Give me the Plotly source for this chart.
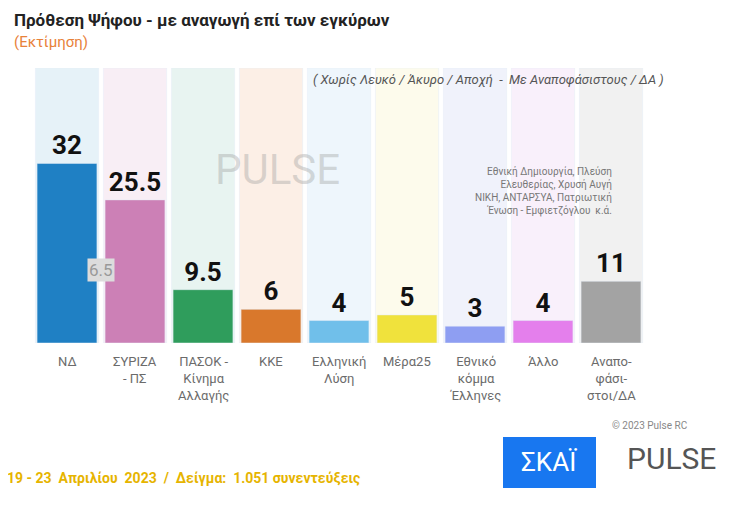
import plotly.graph_objects as go

parties = ["ΝΔ", "ΣΥΡΙΖΑ<br>- ΠΣ", "ΠΑΣΟΚ -<br>Κίνημα<br>Αλλαγής", "ΚΚΕ", "Ελληνική<br>Λύση",
           "Μέρα25", "Εθνικό<br>κόμμα<br>Έλληνες", "Άλλο", "Αναπο-<br>φάσι-<br>στοι/ΔΑ"]
values = [32, 25.5, 9.5, 6, 4, 5, 3, 4, 11]
value_labels = ["<b>32</b>", "<b>25.5</b>", "<b>9.5</b>", "<b>6</b>", "<b>4</b>", "<b>5</b>",
                "<b>3</b>", "<b>4</b>", "<b>11</b>"]
bar_colors = ["#1f80c4", "#cc80b6", "#2f9d5c", "#d9782c", "#70bfea", "#f0e23c", "#8e9ef2", "#e47fec", "#a3a3a3"]
bg_colors = ["#e6f2f8", "#f8eef5", "#e8f4f1", "#fcefe6", "#eef6fc", "#fdfbec", "#f0f2fb", "#f9f0fb", "#f1f1f1"]
diff_label = "6.5"
others_note = "Εθνική Δημιουργία, Πλεύση<br>Ελευθερίας, Χρυσή Αυγή<br>ΝΙΚΗ, ΑΝΤΑΡΣΥΑ, Πατριωτική<br>Ένωση - Εμφιετζόγλου  κ.ά."

# page offset of the figure (body margin) and plot area in screenshot pixels
OFF = 8
L, R, T, B = 33, 645, 68, 343
YMAX = 49

x = list(range(len(parties)))
fig = go.Figure()
fig.add_trace(go.Bar(x=x, y=[YMAX] * len(x), marker_color=bg_colors, width=0.93,
                     hoverinfo="skip", showlegend=False))
fig.add_trace(go.Bar(x=x, y=values, marker_color=bar_colors, width=0.88, showlegend=False,
                     text=value_labels, textposition="outside",
                     textfont=dict(size=26, color="#111", family="Liberation Sans Narrow, Roboto"),
                     cliponaxis=False))
fig.update_layout(barmode="overlay", width=734, height=507, plot_bgcolor="white", paper_bgcolor="white",
                  margin=dict(l=L - OFF, r=734 - R + OFF, t=T - OFF, b=507 - B + OFF),
                  xaxis=dict(visible=False, range=[-0.5, 8.5]),
                  yaxis=dict(visible=False, range=[0, YMAX]),
                  font=dict(family="Liberation Sans Narrow, Roboto, sans-serif"))


def pix(px, py):
    return (px - L) / (R - L), (B - py) / (B - T)


for i, p in enumerate(parties):
    fig.add_annotation(x=i, y=pix(0, 352)[1], yref="paper", text=p, showarrow=False, yanchor="top",
                       font=dict(size=13, color="#6b6b6b"))

fig.add_annotation(x=0.5, y=13, text=diff_label, showarrow=False, bgcolor="#dcdcdc",
                   font=dict(size=17, color="#999"))
fig.add_annotation(x=7, y=27, text=others_note, showarrow=False, align="right",
                   font=dict(size=10, color="#777"))
fig.add_annotation(x=3.1, y=31, text="PULSE", showarrow=False,
                   font=dict(size=42, color="rgba(150,150,150,0.35)"))

for txt, px, py, size, color, anchor in [
    ("<b>Πρόθεση Ψήφου - με αναγωγή επί των εγκύρων</b>", 12, 20, 17, "#222", "left"),
    ("(Εκτίμηση)", 12, 42, 15, "#e8823a", "left"),
    ("<i>( Χωρίς Λευκό / Άκυρο / Αποχή  -  Με Αναποφάσιστους / ΔΑ )</i>", 488, 80, 13, "#555", "center"),
    ("© 2023 Pulse RC", 690, 425, 10, "#888", "right"),
    ("<b>19 - 23  Απριλίου  2023  /  Δείγμα:  1.051 συνεντεύξεις</b>", 5, 478, 14, "#e6b400", "left"),
    ("PULSE", 718, 458, 30, "#555", "right"),
]:
    xx, yy = pix(px, py)
    fig.add_annotation(x=xx, y=yy, xref="paper", yref="paper", text=txt, showarrow=False,
                       xanchor=anchor, yanchor="middle", font=dict(size=size, color=color))

x0, y0 = pix(503, 488)
x1, y1 = pix(596, 437)
fig.add_shape(type="rect", xref="paper", yref="paper", x0=x0, x1=x1, y0=y0, y1=y1,
              fillcolor="#1877f0", line_width=0)
cx, cy = pix(549, 462)
fig.add_annotation(x=cx, y=cy, xref="paper", yref="paper", text="ΣΚΑΪ", xanchor="center", yanchor="middle",
                   showarrow=False, font=dict(size=26, color="white"))

fig.write_html("out.html")
